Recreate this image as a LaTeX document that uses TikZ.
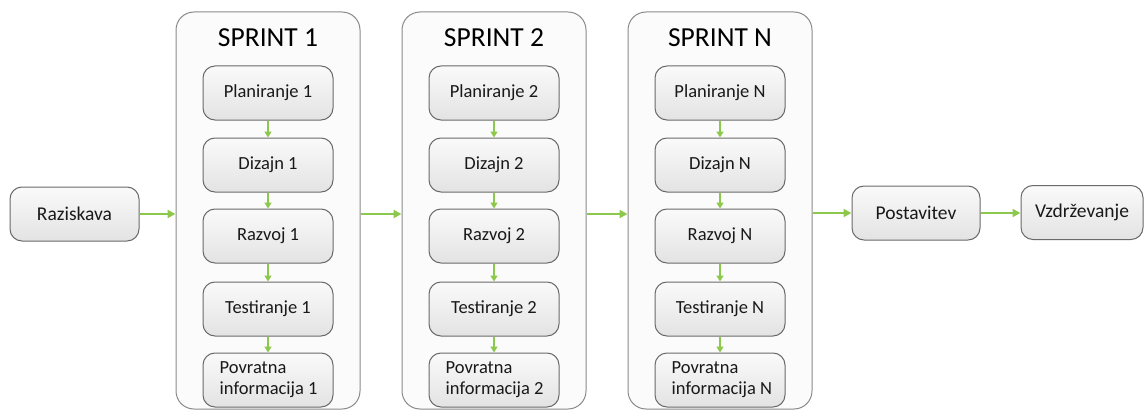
\documentclass[tikz,border=0pt]{standalone}
\usepackage{fontspec}
\setmainfont{Carlito}
\usetikzlibrary{arrows.meta}
\definecolor{arrowgreen}{HTML}{8CC84B}
\definecolor{boxline}{HTML}{6A6A6A}
\definecolor{frameline}{HTML}{8A8A8A}
\tikzset{
  stepbox/.style={draw=boxline, line width=1pt, rounded corners=12pt,
    top color=white!96!gray, bottom color=gray!22,
    minimum width=130pt, minimum height=54pt, inner sep=2pt,
    font=\fontsize{18.5}{21}\selectfont, text=black!90},
  steptext/.style={font=\fontsize{18.5}{21}\selectfont, text=black!90,
    align=left, inner sep=0pt},
  outerbox/.style={stepbox, minimum width=129pt, minimum height=54pt,
    font=\fontsize{19.5}{23}\selectfont},
  sprintframe/.style={draw=frameline, line width=1pt, rounded corners=18pt,
    fill=gray!3, minimum width=184pt, minimum height=397pt, inner sep=0pt},
  sprinttitle/.style={font=\fontsize{27.5}{32}\selectfont, text=black},
  flow/.style={draw=arrowgreen, line width=2pt,
    -{Triangle[length=8pt,width=8pt]}},
  flowshort/.style={draw=arrowgreen, line width=1.6pt,
    -{Triangle[length=6pt,width=7pt]}}
}
\begin{document}
\begin{tikzpicture}[x=1pt,y=-1pt]
  \useasboundingbox (0,0) rectangle (1144,412);

  % sprint frames
  \node[sprintframe] (s1) at (268,210.5) {};
  \node[sprintframe] (s2) at (494,210.5) {};
  \node[sprintframe] (sN) at (720,210.5) {};

  \node[sprinttitle] (t1) at (268,38) {SPRINT 1};
  \node[sprinttitle] (t2) at (494,38) {SPRINT 2};
  \node[sprinttitle] (tN) at (720,38) {SPRINT N};

  % phases inside each sprint
  \foreach \s/\cx/\k in {1/268/1, 2/494/2, N/720/N} {
    \node[stepbox] (p\s) at (\cx,93)  {Planiranje \k};
    \node[stepbox] (d\s) at (\cx,165) {Dizajn \k};
    \node[stepbox] (r\s) at (\cx,236) {Razvoj \k};
    \node[stepbox] (e\s) at (\cx,309) {Testiranje \k};
    \node[stepbox] (f\s) at (\cx,380) {};
    \node[steptext, anchor=west] (ft\s) at ([xshift=17pt]f\s.west)
      {Povratna\\informacija \k};
    \draw[flowshort] (p\s.south) -- (d\s.north);
    \draw[flowshort] (d\s.south) -- (r\s.north);
    \draw[flowshort] (r\s.south) -- (e\s.north);
    \draw[flowshort] (e\s.south) -- (f\s.north);
  }

  % stages before and after the sprints
  \node[outerbox] (raz) at (74.5,214) {Raziskava};
  \node[outerbox, minimum width=128pt] (post) at (916,213) {Postavitev};
  \node[outerbox, minimum width=122pt] (vzd) at (1082,212.5) {Vzdrževanje};

  % main flow
  \draw[flow] (raz.east) -- (raz.east -| s1.west);
  \draw[flow] (s1.east |- raz.east) -- (s2.west |- raz.east);
  \draw[flow] (s2.east |- raz.east) -- (sN.west |- raz.east);
  \draw[flow] (post.west -| sN.east) -- (post.west);
  \draw[flow] (post.east) -- (post.east -| vzd.west);
\end{tikzpicture}
\end{document}
